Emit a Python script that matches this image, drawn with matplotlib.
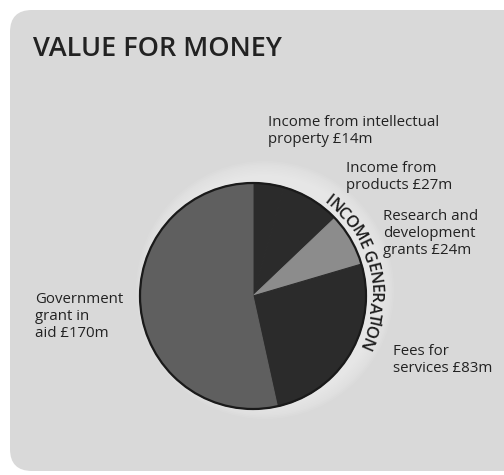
import numpy as np
import matplotlib
matplotlib.use("Agg")
import matplotlib.pyplot as plt
from matplotlib.patches import FancyBboxPatch, Circle
from matplotlib.textpath import TextToPath
from matplotlib.font_manager import FontProperties

# --- data -------------------------------------------------------------
sources = ["Income from intellectual property", "Income from products",
           "Research and development grants", "Fees for services",
           "Government grant in aid"]
amounts = [14, 27, 24, 83, 170]          # £m
slice_colors = ["#2b2b2b", "#2b2b2b", "#8c8c8c", "#2b2b2b", "#5f5f5f"]
label_texts = ["Income from intellectual\nproperty £14m",
               "Income from\nproducts £27m",
               "Research and\ndevelopment\ngrants £24m",
               "Fees for\nservices £83m",
               "Government\ngrant in\naid £170m"]
title = "VALUE FOR MONEY"
arc_title = "INCOME GENERATION"

W, H = 504, 475
FONT = "Open Sans"

fig = plt.figure(figsize=(W / 100, H / 100), dpi=100)
fig.patch.set_facecolor("white")
ax = fig.add_axes([0, 0, 1, 1])


def Y(y):
    """Convert a top-down pixel row to axes y."""
    return H - y


# rounded panel
panel = FancyBboxPatch((10, Y(471)), 560, 461,
                       boxstyle="round,pad=0,rounding_size=22",
                       facecolor="#d9d9d9", edgecolor="none", zorder=0)
ax.add_patch(panel)

cx, cy, R = 253, Y(296), 113

# soft light glow behind the pie on the upper right
for r in np.linspace(R + 16, R + 2, 10):
    ax.add_patch(Circle((cx + 12, cy + 6), r, facecolor="#efefef",
                        edgecolor="none", alpha=0.12, zorder=1))

wedges, _ = ax.pie(amounts, colors=slice_colors, startangle=90,
                   counterclock=False, center=(cx, cy), radius=R,
                   wedgeprops=dict(linewidth=0.8))
for w in wedges:
    w.set_edgecolor(w.get_facecolor())
    w.set_zorder(2)
# outer rim
ax.add_patch(Circle((cx, cy), R, facecolor="none", edgecolor="#1a1a1a",
                    linewidth=1.6, zorder=3))

# curved caption following the rim
fs_arc = 12.0
fp = FontProperties(family=FONT, size=fs_arc, weight="semibold")
t2p = TextToPath()
px = 100 / 72


def advance(s):
    if not s:
        return 0.0
    return t2p.get_text_width_height_descent(s, fp, ismath=False)[0] * px


n = len(arc_title)
edges = [advance(arc_title[:k]) for k in range(n + 1)]
theta0, theta1 = 37.0, 116.0
r_txt = R + 8.5
arc_len = np.deg2rad(theta1 - theta0) * r_txt
track = (arc_len - edges[-1]) / (n - 1)
for k, ch in enumerate(arc_title):
    mid = (edges[k] + edges[k + 1]) / 2 + k * track
    theta = theta0 + np.rad2deg(mid / r_txt)
    phi = np.deg2rad(90 - theta)
    ax.text(cx + r_txt * np.cos(phi), cy + r_txt * np.sin(phi), ch,
            rotation=-theta, rotation_mode="anchor", ha="center",
            va="center", fontsize=fs_arc, family=FONT, weight="semibold",
            color="#1e1e1e", zorder=4)

# title
ax.text(33, Y(49), title, fontsize=19.5, family=FONT, weight="semibold",
        color="#222222", ha="left", va="center", zorder=4)

# slice labels (left, top)
label_xy = [(268, 115), (346, 161), (383, 209), (393, 344), (35, 292)]
for txt, (lx, ly) in zip(label_texts, label_xy):
    ax.text(lx, Y(ly), txt, fontsize=10.8, family=FONT,
            color="#222222", ha="left", va="top", linespacing=1.2,
            zorder=4)

ax.set_xlim(0, W)
ax.set_ylim(0, H)
ax.set_aspect("auto")
ax.axis("off")

fig.savefig("out.png", dpi=100, facecolor="white")
